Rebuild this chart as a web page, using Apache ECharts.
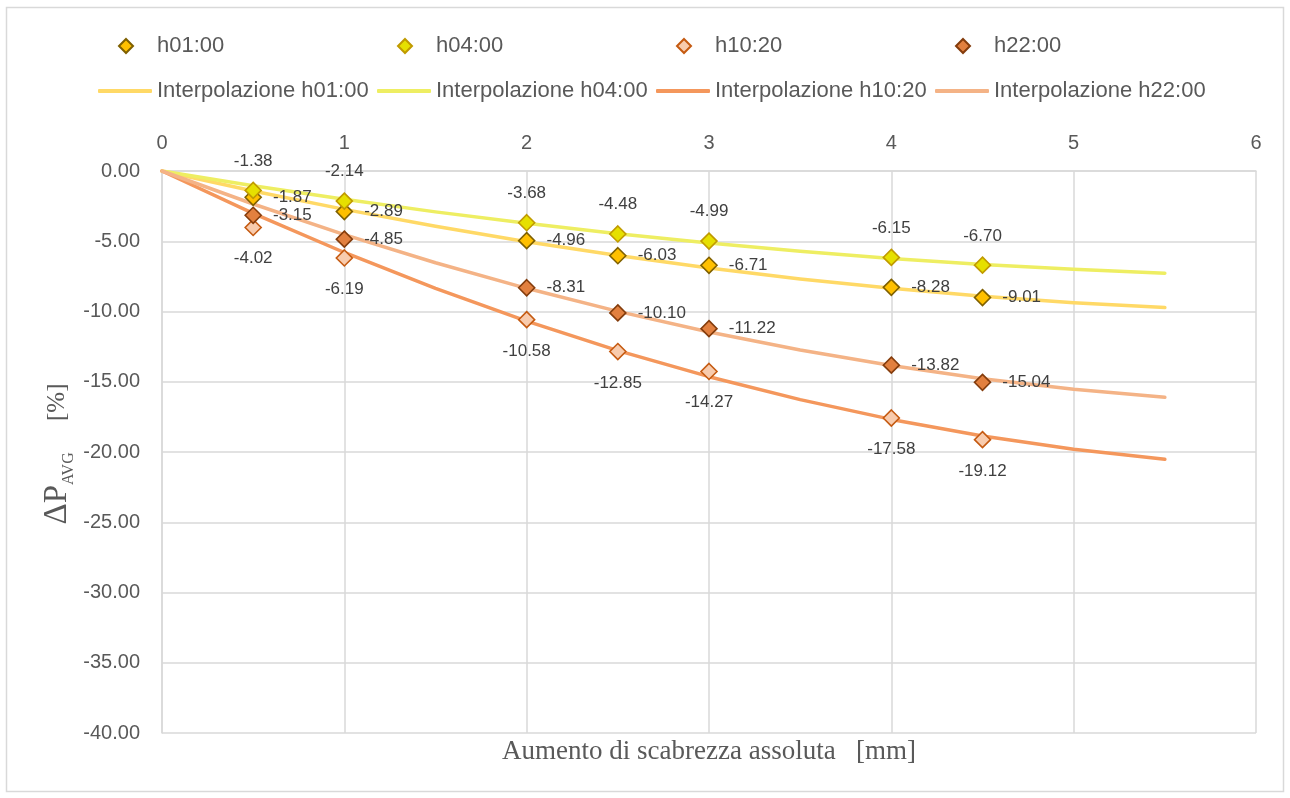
<!DOCTYPE html>
<html>
<head>
<meta charset="utf-8">
<script src="https://cdn.jsdelivr.net/npm/echarts@6/dist/echarts.min.js"></script>
<style>
  html, body { margin: 0; padding: 0; background: #ffffff; }
  #chart { width: 1290px; height: 798px; }
</style>
</head>
<body>
<div id="chart"></div>
<script>
// Measured pressure-drop variation vs. absolute roughness increase
const roughness = [0.5, 1, 2, 2.5, 3, 4, 4.5];
const h0100 = [-1.87, -2.89, -4.96, -6.03, -6.71, -8.28, -9.01];
const h0400 = [-1.38, -2.14, -3.68, -4.48, -4.99, -6.15, -6.70];
const h1020 = [-4.02, -6.19, -10.58, -12.85, -14.27, -17.58, -19.12];
const h2200 = [-3.15, -4.85, -8.31, -10.10, -11.22, -13.82, -15.04];

// Interpolating curves
const fitX = [0, 0.5, 1, 1.5, 2, 2.5, 3, 3.5, 4, 4.5, 5, 5.5];
const fit0100 = [0, -1.42, -2.73, -3.93, -5.03, -6.02, -6.90, -7.68, -8.35, -8.91, -9.37, -9.72];
const fit0400 = [0, -1.05, -2.01, -2.91, -3.72, -4.46, -5.12, -5.71, -6.22, -6.65, -7.00, -7.28];
const fit1020 = [0, -3.02, -5.80, -8.35, -10.68, -12.78, -14.64, -16.27, -17.68, -18.86, -19.80, -20.52];
const fit2200 = [0, -2.35, -4.53, -6.53, -8.35, -9.99, -11.46, -12.74, -13.85, -14.78, -15.54, -16.11];

// Axis ranges
const xRange = [0, 6, 1];
const yRange = [-40, 0, 5];

const SANS = '"Liberation Sans", Arial, sans-serif';
const SERIF = '"Liberation Serif", "DejaVu Serif", serif';
const TEXT = '#595959';
const LABEL = '#404040';
const GRIDC = '#D9D9D9';

const pairs = (xs, ys) => xs.map((x, i) => [x, ys[i]]);

const pointSeries = [
  { name: 'h01:00', data: h0100, fill: '#FFC000', border: '#7F6000', pos: 'right', dist: 11 },
  { name: 'h04:00', data: h0400, fill: '#E6E000', border: '#C09A00', pos: 'top', dist: 12 },
  { name: 'h10:20', data: h1020, fill: '#F8CBAD', border: '#C55A11', pos: 'bottom', dist: 14 },
  { name: 'h22:00', data: h2200, fill: '#E2803F', border: '#843C0C', pos: 'right', dist: 11 }
];
const curveSeries = [
  { name: 'Interpolazione h01:00', data: fit0100, color: '#FFD966' },
  { name: 'Interpolazione h04:00', data: fit0400, color: '#EEEE62' },
  { name: 'Interpolazione h10:20', data: fit1020, color: '#F4975C' },
  { name: 'Interpolazione h22:00', data: fit2200, color: '#F4B386' }
];

const series = [];
curveSeries.forEach(c => {
  series.push({
    name: c.name,
    type: 'line',
    data: pairs(fitX, c.data),
    smooth: false,
    symbol: 'none',
    showSymbol: false,
    z: 2,
    lineStyle: { color: c.color, width: 3.5, cap: 'round', join: 'round' },
    itemStyle: { color: c.color },
    emphasis: { disabled: true },
    animation: false
  });
});
pointSeries.forEach(p => {
  series.push({
    name: p.name,
    type: 'scatter',
    data: pairs(roughness, p.data),
    symbol: 'diamond',
    symbolSize: 16,
    z: 5,
    itemStyle: { color: p.fill, borderColor: p.border, borderWidth: 1.6, opacity: 1 },
    label: {
      show: true,
      position: p.pos,
      distance: p.dist,
      formatter: q => q.value[1].toFixed(2),
      fontFamily: SANS,
      fontSize: 17,
      color: LABEL
    },
    emphasis: { disabled: true },
    animation: false
  });
});

// Legend: two rows of four fixed-width columns
const colPitch = 279;
const legends = [];
pointSeries.forEach((p, i) => {
  legends.push({
    data: [p.name],
    left: 118 + i * colPitch,
    top: 35,
    padding: 0,
    itemWidth: 14,
    itemHeight: 14,
    selectedMode: false,
    textStyle: { fontFamily: SANS, fontSize: 22, color: TEXT, padding: [0, 0, 0, 19] }
  });
});
curveSeries.forEach((c, i) => {
  legends.push({
    data: [{ name: c.name, icon: 'roundRect' }],
    left: 98 + i * colPitch,
    top: 80,
    padding: 0,
    itemWidth: 54,
    itemHeight: 4,
    selectedMode: false,
    textStyle: { fontFamily: SANS, fontSize: 22, color: TEXT }
  });
});

const chart = echarts.init(document.getElementById('chart'), null, { renderer: 'canvas' });
chart.setOption({
  backgroundColor: '#ffffff',
  animation: false,
  legend: legends,
  grid: { left: 162, right: 34, top: 171, bottom: 65, containLabel: false },
  xAxis: {
    type: 'value',
    position: 'top',
    min: xRange[0], max: xRange[1], interval: xRange[2],
    axisLine: { show: true, onZero: false, lineStyle: { color: GRIDC, width: 1.5 } },
    axisTick: { show: false },
    axisLabel: { fontFamily: SANS, fontSize: 20, color: TEXT, margin: 18 },
    splitLine: { show: true, lineStyle: { color: GRIDC, width: 1.5 } }
  },
  yAxis: {
    type: 'value',
    min: yRange[0], max: yRange[1], interval: yRange[2],
    axisLine: { show: true, onZero: false, lineStyle: { color: GRIDC, width: 1.5 } },
    axisTick: { show: false },
    axisLabel: { fontFamily: SANS, fontSize: 20, color: TEXT, margin: 22, formatter: v => v.toFixed(2) },
    splitLine: { show: true, lineStyle: { color: GRIDC, width: 1.5 } }
  },
  graphic: [
    {
      type: 'rect', silent: true, z: -10,
      shape: { x: 6.5, y: 7.5, width: 1277, height: 784 },
      style: { fill: 'none', stroke: GRIDC, lineWidth: 1.5 }
    },
    {
      type: 'text', silent: true,
      x: 709, y: 752,
      style: {
        text: 'Aumento di scabrezza assoluta   [mm]',
        fontFamily: SERIF, fontSize: 27, fill: TEXT,
        align: 'center', verticalAlign: 'middle'
      }
    },
    {
      type: 'text', silent: true,
      x: 57, y: 454,
      rotation: Math.PI / 2,
      style: {
        text: '{d|ΔP}{s|AVG}{u|     [%]}',
        align: 'center', verticalAlign: 'middle',
        rich: {
          d: { fontFamily: SERIF, fontSize: 33, fill: TEXT, lineHeight: 40, verticalAlign: 'middle' },
          s: { fontFamily: SERIF, fontSize: 16, fill: TEXT, lineHeight: 16, verticalAlign: 'bottom' },
          u: { fontFamily: SERIF, fontSize: 25, fill: TEXT, lineHeight: 40, verticalAlign: 'middle' }
        }
      }
    }
  ],
  series: series
});
</script>
</body>
</html>
